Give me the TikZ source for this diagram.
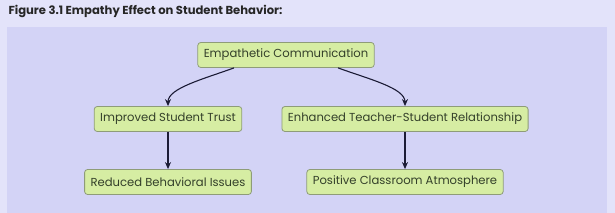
\documentclass[tikz,border=0pt]{standalone}
\usepackage{fontspec}
\setmainfont{Poppins}
\usetikzlibrary{arrows.meta, positioning}
\definecolor{outercol}{HTML}{E3E3FA}
\definecolor{panelcol}{HTML}{D3D3F6}
\definecolor{boxcol}{HTML}{D6EDA3}
\definecolor{edgecol}{HTML}{8E9C78}
\definecolor{textcol}{HTML}{34402A}
\definecolor{arrowcol}{HTML}{1C1C36}
\tikzset{
  fbox/.style={rectangle, rounded corners=3pt, draw=edgecol, line width=0.8pt, fill=boxcol,
    minimum height=25pt, inner xsep=6pt, text=textcol, font=\fontsize{11.6}{13}\selectfont},
  flow/.style={-{Stealth[length=7pt, width=6pt]}, draw=arrowcol, line width=1.1pt},
}
\begin{document}
\begin{tikzpicture}[x=1pt, y=1pt]
  \fill[outercol] (0,0) rectangle (615,213);
  \fill[panelcol] (7,0) rectangle (607,186);
  \node[anchor=west, font=\bfseries\fontsize{11.6}{13}\selectfont, text=black!85] (title) at (5,202)
    {Figure 3.1 Empathy Effect on Student Behavior:};
  \node[fbox] (ec) at (286,158) {Empathetic Communication};
  \node[fbox] (ist) at (168,94) {Improved Student Trust};
  \node[fbox] (tsr) at (405,94) {Enhanced Teacher-Student Relationship};
  \node[fbox] (rbi) at (168,31) {Reduced Behavioral Issues};
  \node[fbox] (pca) at (405,31) {Positive Classroom Atmosphere};
  \draw[flow] ([xshift=-52pt]ec.south) to[out=200, in=90, out looseness=1.1, in looseness=0.6] (ist.north);
  \draw[flow] ([xshift=52pt]ec.south) to[out=-20, in=90, out looseness=1.1, in looseness=0.6] (tsr.north);
  \draw[flow] (ist) -- (rbi);
  \draw[flow] (tsr) -- (pca);
\end{tikzpicture}
\end{document}
